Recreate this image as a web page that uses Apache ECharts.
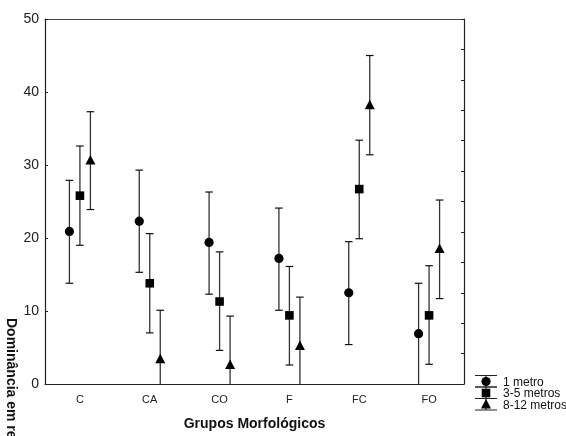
<!DOCTYPE html>
<html>
<head>
<meta charset="utf-8">
<script src="https://cdn.jsdelivr.net/npm/echarts@6/dist/echarts.min.js"></script>
<style>
  html, body { margin: 0; padding: 0; background: #fff; }
  #main { width: 566px; height: 436px; }
</style>
</head>
<body>
<div id="main"></div>
<script>
// grupos
var grupos = ['C', 'CA', 'CO', 'F', 'FC', 'FO'];
var nomes = ['1 metro', '3-5 metros', '8-12 metros'];

// 1 metro
var media1 = [20.9, 22.3, 19.4, 17.2, 12.5, 6.9];
var inf1 = [13.8, 15.3, 12.3, 10.1, 5.4, -0.1];
var sup1 = [27.9, 29.3, 26.3, 24.1, 19.5, 13.8];
// 3-5 metros
var media2 = [25.8, 13.8, 11.3, 9.4, 26.7, 9.4];
var inf2 = [19.0, 7.0, 4.6, 2.6, 19.9, 2.7];
var sup2 = [32.6, 20.6, 18.1, 16.1, 33.4, 16.2];
// 8-12 metros
var media3 = [30.6, 3.4, 2.6, 5.2, 38.2, 18.5];
var inf3 = [23.9, -3.3, -4.1, -1.5, 31.4, 11.7];
var sup3 = [37.3, 10.1, 9.3, 11.9, 45.0, 25.2];

var yTicks = [0, 10, 20, 30, 40, 50];

var fonte = '"Liberation Sans", Arial, sans-serif';

function montaDados(media, inf, sup) {
  var d = [];
  for (var i = 0; i < grupos.length; i++) {
    d.push([i, media[i], inf[i], sup[i]]);
  }
  return d;
}

// desenha o marcador
function marcador(tipo, x, y) {
  if (tipo === 'circle') {
    return { type: 'circle', shape: { cx: x, cy: y, r: 4.6 }, style: { fill: '#000' } };
  }
  if (tipo === 'rect') {
    return { type: 'rect', shape: { x: x - 4.3, y: y - 4.3, width: 8.6, height: 8.6 }, style: { fill: '#000' } };
  }
  return {
    type: 'polygon',
    shape: { points: [[x, y - 5.5], [x + 5, y + 4], [x - 5, y + 4]] },
    style: { fill: '#000' }
  };
}

function serieErro(nome, dados, tipo, desloc) {
  return {
    name: nome,
    type: 'custom',
    clip: true,
    data: dados,
    renderItem: function (params, api) {
      var c = api.coord([api.value(0), api.value(1)]);
      var lo = api.coord([api.value(0), api.value(2)]);
      var hi = api.coord([api.value(0), api.value(3)]);
      var x = c[0] + desloc;
      var w = 3.8;
      return {
        type: 'group',
        children: [
          { type: 'line', shape: { x1: x, y1: lo[1], x2: x, y2: hi[1] }, style: { stroke: '#333', lineWidth: 1.3 } },
          { type: 'line', shape: { x1: x - w, y1: hi[1], x2: x + w, y2: hi[1] }, style: { stroke: '#111', lineWidth: 1.2 } },
          { type: 'line', shape: { x1: x - w, y1: lo[1], x2: x + w, y2: lo[1] }, style: { stroke: '#111', lineWidth: 1.2 } },
          marcador(tipo, x, c[1])
        ]
      };
    }
  };
}

// legenda desenhada à mão (símbolo com barra de erro)
function itemLegenda(tipo, y, texto) {
  var x = 486;
  return {
    type: 'group',
    children: [
      { type: 'line', shape: { x1: 475, y1: y - 6, x2: 497, y2: y - 6 }, style: { stroke: '#222', lineWidth: 1 } },
      { type: 'line', shape: { x1: 475, y1: y + 5.5, x2: 497, y2: y + 5.5 }, style: { stroke: '#222', lineWidth: 1 } },
      { type: 'line', shape: { x1: x, y1: y - 6, x2: x, y2: y + 5.5 }, style: { stroke: '#222', lineWidth: 1.2 } },
      marcador(tipo, x, y),
      { type: 'text', x: 503, y: y + 1, style: { text: texto, font: '12px ' + fonte, fill: '#111', textVerticalAlign: 'middle' } }
    ]
  };
}

var myChart = echarts.init(document.getElementById('main'));
var option = {
  backgroundColor: '#fff',
  animation: false,
  grid: { left: 45, right: 102, top: 19, bottom: 51 },
  xAxis: [{
    type: 'category',
    data: grupos,
    boundaryGap: true,
    axisLine: { onZero: false, lineStyle: { color: '#222', width: 1.2 } },
    axisTick: { inside: true, alignWithLabel: true, length: 3, lineStyle: { color: '#222' } },
    axisLabel: { color: '#222', fontSize: 11, fontFamily: fonte, margin: 10 },
    splitLine: { show: false },
    name: 'Grupos Morfológicos',
    nameLocation: 'middle',
    nameGap: 33,
    nameTextStyle: { color: '#111', fontSize: 14, fontWeight: 'bold', fontFamily: fonte }
  }, {
    type: 'category',
    data: grupos,
    position: 'top',
    boundaryGap: true,
    axisLine: { show: true, onZero: false, lineStyle: { color: '#444', width: 1.2 } },
    axisTick: { inside: true, alignWithLabel: true, length: 3, lineStyle: { color: '#222' } },
    axisLabel: { show: false }
  }],
  yAxis: [{
    type: 'value',
    min: 0,
    max: yTicks[yTicks.length - 1],
    interval: yTicks[1] - yTicks[0],
    axisLine: { show: true, onZero: false, lineStyle: { color: '#222', width: 1.2 } },
    axisTick: { show: true, inside: true, length: 3, lineStyle: { color: '#222' } },
    axisLabel: { color: '#222', fontSize: 14, fontFamily: fonte, margin: 6 },
    splitLine: { show: false }
  }, {
    type: 'value',
    min: 0,
    max: 12,
    interval: 1,
    position: 'right',
    axisLine: { show: true, onZero: false, lineStyle: { color: '#222', width: 1.2 } },
    axisTick: { show: true, inside: true, length: 3, lineStyle: { color: '#222' } },
    axisLabel: { show: false },
    splitLine: { show: false }
  }],
  series: [
    serieErro(nomes[0], montaDados(media1, inf1, sup1), 'circle', -10.5),
    serieErro(nomes[1], montaDados(media2, inf2, sup2), 'rect', 0),
    serieErro(nomes[2], montaDados(media3, inf3, sup3), 'triangle', 10.5)
  ],
  graphic: [
    {
      type: 'text',
      x: 11,
      y: 318,
      rotation: -Math.PI / 2,
      style: { text: 'Dominância em relação (%)', font: 'bold 14px ' + fonte, fill: '#111', textAlign: 'left', textVerticalAlign: 'middle' }
    },
    itemLegenda('circle', 381.5, nomes[0]),
    itemLegenda('rect', 393, nomes[1]),
    itemLegenda('triangle', 404.5, nomes[2])
  ]
};
myChart.setOption(option);
</script>
</body>
</html>
